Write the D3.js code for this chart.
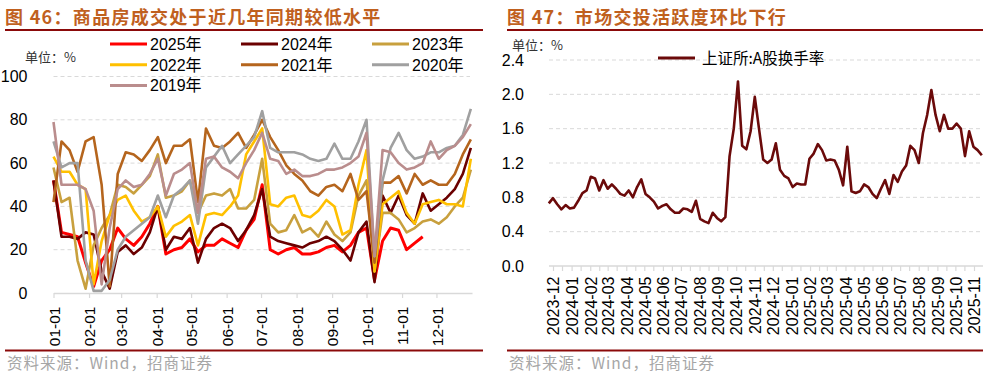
<!DOCTYPE html>
<html>
<head>
<meta charset="utf-8">
<script src="https://cdn.jsdelivr.net/npm/d3@7/dist/d3.min.js"></script>
<style>
  body { margin: 0; background: #fff; }
  svg { display: block; }
  text { font-family: "Liberation Sans", Arial, "Noto Sans CJK SC", sans-serif; fill: #000; }
  .cjk { font-family: "Noto Sans CJK SC", sans-serif; }
</style>
</head>
<body>
<svg id="chart" width="989" height="383"></svg>
<script>
// ---------- 图46 数据：商品房成交（周度，%） ----------
var leftTickLabels = ["01-01","02-01","03-01","04-01","05-01","06-01","07-01","08-01","09-01","10-01","11-01","12-01"];
var yearNames = ["2025年","2024年","2023年","2022年","2021年","2020年","2019年"];
var s2025 = [52,28,27,26,14,3,15,20,30,25,22,26,32,40,18,20,21,25,19,22,22,25,23,21,29,34,50,20,18,20,21,18,18,19,21,22,19,22,28,30,6,24,30,29,20,23,26];
var s2024 = [52,26,26,25,28,27,10,2,19,22,18,21,28,40,20,26,25,30,14,25,30,32,30,24,29,36,48,26,24,23,22,21,23,24,26,24,20,15,28,33,5,45,37,45,36,32,46,38,41,44,48,55,67];
var s2023 = [58,42,44,15,2,22,30,36,50,49,46,50,54,64,44,45,47,52,37,45,46,45,48,39,39,43,62,32,28,29,36,28,30,26,33,27,24,28,45,52,10,37,37,34,28,30,33,34,32,35,40,44,57];
var s2022 = [63,56,56,50,48,4,24,36,43,45,38,33,35,40,26,31,33,36,22,36,37,36,40,45,64,70,76,41,40,44,45,36,35,38,43,40,27,29,50,66,10,41,44,47,37,32,41,42,43,41,41,40,62];
var s2021 = [42,70,66,56,70,72,50,3,55,65,64,61,66,72,60,68,68,71,42,76,68,67,70,74,67,73,80,72,66,59,55,52,47,45,49,50,47,55,43,47,14,51,51,54,46,55,50,52,50,50,55,64,71];
var s2020 = [70,58,60,60,15,1,1,6,20,26,29,32,35,45,35,45,48,52,32,58,63,68,60,64,68,72,84,67,65,65,65,64,62,61,62,69,62,62,70,80,17,52,67,74,66,62,63,65,65,67,68,73,85];
var s2019 = [79,50,50,50,48,38,4,30,48,52,49,50,55,62,45,55,57,60,37,62,63,58,56,53,60,66,74,62,61,55,57,54,54,55,57,57,58,60,63,74,17,66,65,60,57,58,60,70,62,66,68,72,78];
var yearSeries = [s2025, s2024, s2023, s2022, s2021, s2020, s2019];
var yearColors = ["#FF0000","#6B0000","#C8A03E","#FFC000","#B5651D","#A0A0A0","#BA8D8D"];

// ---------- 图47 数据：上证所A股换手率（周度，%） ----------
var rightTickLabels = ["2023-12","2024-01","2024-02","2024-03","2024-04","2024-05","2024-06","2024-07","2024-08","2024-09","2024-10","2024-11","2024-12",
  "2025-01","2025-02","2025-03","2025-04","2025-05","2025-06","2025-07","2025-08","2025-09","2025-10","2025-11"];
var turnoverStart = "2023-11-24";
var turnover = [0.73,0.79,0.72,0.66,0.71,0.67,0.68,0.76,0.85,0.88,
  1.04,1.02,0.88,1.00,0.90,0.95,0.90,0.84,0.82,0.88,
  0.80,0.92,1.01,0.84,0.80,0.75,0.67,0.70,0.72,0.66,
  0.62,0.62,0.67,0.66,0.63,0.76,0.55,0.52,0.50,0.62,
  0.56,0.52,0.57,1.28,1.60,2.15,1.40,1.36,1.57,1.97,
  1.60,1.24,1.20,1.24,1.43,1.12,1.05,1.02,0.92,0.96,
  0.95,0.95,1.25,1.31,1.42,1.35,1.23,1.24,1.23,1.12,
  0.94,1.39,0.87,0.85,0.87,0.95,0.92,0.84,0.79,0.90,
  1.00,0.84,1.06,0.98,1.10,1.17,1.40,1.35,1.20,1.55,
  1.76,2.05,1.76,1.57,1.76,1.60,1.60,1.66,1.60,1.28,
  1.57,1.39,1.35,1.29];
var turnoverName = "上证所:A股换手率";

var svg = d3.select('#chart');
var titleColor = "#C0601E";
var ruleColor = "#8B0A0A";
var gridColor = "#D9D9D9";

// 标题 + 分隔线 + 资料来源
function drawFrame(x0, x1, title) {
  svg.append('text').attr('class', 'cjk')
    .attr('x', x0).attr('y', 24)
    .style('font-size', '18px').style('font-weight', 'bold')
    .style('letter-spacing', '1.3px').style('fill', titleColor)
    .text(title);
  svg.append('line').attr('x1', x0).attr('x2', x1).attr('y1', 30).attr('y2', 30)
    .style('stroke', ruleColor).style('stroke-width', 2);
  svg.append('line').attr('x1', x0).attr('x2', x1).attr('y1', 350.5).attr('y2', 350.5)
    .style('stroke', ruleColor).style('stroke-width', 2);
  svg.append('text').attr('class', 'cjk')
    .attr('x', x0 + 2).attr('y', 369)
    .style('font-size', '15.5px').style('letter-spacing', '1px').style('fill', '#A6A6A6')
    .text('资料来源：Wind，招商证券');
}

function gridlines(g, y, ticks, xa, xb) {
  g.selectAll('line.grid').data(ticks).enter().append('line')
    .attr('class', 'grid')
    .attr('x1', xa).attr('x2', xb)
    .attr('y1', function(d) { return y(d); }).attr('y2', function(d) { return y(d); })
    .style('stroke', gridColor).style('stroke-width', 1)
    .style('stroke-dasharray', '4,3');
}

function styleBottomAxis(g, labelGap, fontSize) {
  g.select('.domain').style('stroke', gridColor).style('stroke-width', 1.5);
  g.selectAll('.tick line').style('stroke', gridColor).style('stroke-width', 1.2);
  g.selectAll('.tick text')
    .attr('transform', 'rotate(-90)')
    .attr('x', -labelGap).attr('y', 0).attr('dy', '0.36em')
    .style('text-anchor', 'end').style('font-size', fontSize)
    .style('font-family', '"Liberation Sans", Arial, sans-serif').style('fill', '#000');
}

function styleLeftAxis(g) {
  g.select('.domain').remove();
  g.selectAll('.tick line').remove();
  g.selectAll('.tick text').style('font-size', '16px')
    .style('font-family', '"Liberation Sans", Arial, sans-serif').style('fill', '#000');
}

// ================= 图46 =================
drawFrame(5, 483, '图 46：商品房成交处于近几年同期较低水平');

var lx = d3.scaleTime().domain([new Date(2025, 0, 1), new Date(2026, 0, 1)]).range([53.5, 472]);
var ly = d3.scaleLinear().domain([0, 100]).range([293, 76.5]);
var weekDates = d3.range(53).map(function(w) { return d3.timeDay.offset(new Date(2025, 0, 1), 7 * w); });
var leftTickDates = leftTickLabels.map(function(s) {
  var p = s.split('-');
  return new Date(2025, +p[0] - 1, +p[1]);
});

var left = svg.append('g');
gridlines(left, ly, [20, 40, 60, 80, 100], 53.5, 470);

left.append('g').attr('transform', 'translate(0,293)')
  .call(d3.axisBottom(lx).tickValues(leftTickDates).tickSize(5).tickSizeOuter(0)
    .tickFormat(function(d, i) { return leftTickLabels[i]; }))
  .call(function(g) { styleBottomAxis(g, 13.5, '15.5px'); });

left.append('g').attr('transform', 'translate(53.5,0)')
  .call(d3.axisLeft(ly).tickValues([0, 20, 40, 60, 80, 100]).tickPadding(20))
  .call(styleLeftAxis);

var lline = d3.line()
  .x(function(d, i) { return lx(weekDates[i]); })
  .y(function(d) { return ly(d); });

yearSeries.forEach(function(s, i) {
  left.append('path').datum(s)
    .attr('d', lline)
    .style('fill', 'none')
    .style('stroke', yearColors[i])
    .style('stroke-width', i === 0 ? 3 : 2.6)
    .style('stroke-linejoin', 'round');
});

// 图例 三列
var legend = svg.append('g');
yearNames.forEach(function(name, i) {
  var col = i % 3, row = Math.floor(i / 3);
  var gx = 110 + col * 131, gy = 44 + row * 20.7;
  legend.append('line').attr('x1', gx).attr('x2', gx + 37).attr('y1', gy).attr('y2', gy)
    .style('stroke', yearColors[i]).style('stroke-width', 3);
  legend.append('text').attr('x', gx + 40).attr('y', gy + 6)
    .style('font-size', '16px').text(name);
});

svg.append('text').attr('class', 'cjk').attr('x', 25).attr('y', 62)
  .style('font-size', '13px').style('fill', '#333').text('单位：%');

// ================= 图47 =================
drawFrame(507, 983, '图 47：市场交投活跃度环比下行');

var parse = d3.timeParse('%Y-%m-%d');
var rightTickDates = rightTickLabels.map(function(s) { return parse(s + '-01'); });
var rx = d3.scaleTime().domain([rightTickDates[0], rightTickDates[rightTickDates.length - 1]]).range([553, 974]);
var ry = d3.scaleLinear().domain([0, 2.4]).range([266, 60]);
var turnoverDates = turnover.map(function(v, k) { return d3.timeDay.offset(parse(turnoverStart), 7 * k); });

var right = svg.append('g');
gridlines(right, ry, [0.4, 0.8, 1.2, 1.6, 2.0, 2.4], 549, 983);

// 半月小刻度
var minorTicks = rightTickDates.map(function(d) { return d3.timeDay.offset(d, 15); })
  .filter(function(d) { return rx(d) < 983; });
right.append('g').attr('transform', 'translate(0,266)')
  .call(d3.axisBottom(rx).tickValues(minorTicks).tickSize(5).tickSizeOuter(0).tickFormat(''))
  .call(function(g) { g.select('.domain').remove(); g.selectAll('.tick line').style('stroke', gridColor).style('stroke-width', 1.2); });

var rAxis = right.append('g').attr('transform', 'translate(0,266)')
  .call(d3.axisBottom(rx).tickValues(rightTickDates).tickSize(5).tickSizeOuter(0)
    .tickFormat(function(d, i) { return rightTickLabels[i]; }))
  .call(function(g) { styleBottomAxis(g, 10.5, '16px'); });
rAxis.select('.domain').remove();
right.append('line').attr('x1', 549).attr('x2', 983).attr('y1', 266).attr('y2', 266)
  .style('stroke', gridColor).style('stroke-width', 1.5);

right.append('g').attr('transform', 'translate(549,0)')
  .call(d3.axisLeft(ry).tickValues([0, 0.4, 0.8, 1.2, 1.6, 2.0, 2.4]).tickPadding(19)
    .tickFormat(d3.format('.1f')))
  .call(styleLeftAxis);

right.append('path').datum(turnover)
  .attr('d', d3.line()
    .x(function(d, i) { return rx(turnoverDates[i]); })
    .y(function(d) { return ry(d); }))
  .style('fill', 'none').style('stroke', '#6B0A0A')
  .style('stroke-width', 2.6).style('stroke-linejoin', 'round');

right.append('line').attr('x1', 658).attr('x2', 695).attr('y1', 58).attr('y2', 58)
  .style('stroke', '#6B0A0A').style('stroke-width', 3);
right.append('text').attr('class', 'cjk').attr('x', 702).attr('y', 63.5)
  .style('font-size', '15.5px').text(turnoverName);

svg.append('text').attr('class', 'cjk').attr('x', 512).attr('y', 50)
  .style('font-size', '13px').style('fill', '#333').text('单位：%');
</script>
</body>
</html>
